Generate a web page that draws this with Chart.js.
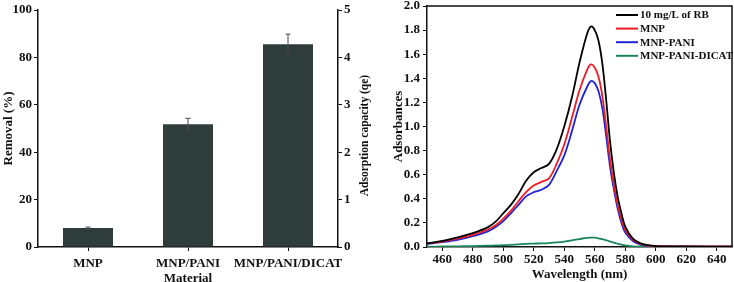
<!DOCTYPE html>
<html>
<head>
<meta charset="utf-8">
<script src="https://cdn.jsdelivr.net/npm/chart.js@4.4.0/dist/chart.umd.min.js"></script>
<style>
  body { margin: 0; background: #fff; }
  #wrap { position: relative; width: 734px; height: 282px; }
  #barBox { position: absolute; left: 0; top: 0; width: 372px; height: 282px; }
  #lineBox { position: absolute; left: 372px; top: 0; width: 362px; height: 282px; }
</style>
</head>
<body>
<div id="wrap">
  <div id="barBox"><canvas id="barChart"></canvas></div>
  <div id="lineBox"><canvas id="lineChart"></canvas></div>
</div>
<script>
// left panel: removal per material
const materials = ['MNP', 'MNP/PANI', 'MNP/PANI/DICAT'];
const removal = [8.0, 51.8, 85.6];
const removalErr = [0.4, 2.5, 4.2];
const removalTicks = [0, 20, 40, 60, 80, 100];
const capacityTicks = [0, 1, 2, 3, 4, 5];

// right panel: UV-vis spectra
const wavelength = [450, 460, 470, 480, 490, 495, 500, 505, 510, 515, 520, 525, 530, 535, 540, 545, 550, 555, 557.5, 560, 562.5, 565, 567.5, 570, 572.5, 575, 577.5, 580, 585, 590, 595, 600, 610, 620, 650];
const rb10 = [0.03, 0.05, 0.08, 0.115, 0.165, 0.21, 0.28, 0.35, 0.44, 0.55, 0.62, 0.655, 0.69, 0.81, 1.0, 1.24, 1.53, 1.77, 1.83, 1.80, 1.71, 1.52, 1.22, 0.88, 0.62, 0.42, 0.28, 0.17, 0.07, 0.03, 0.015, 0.008, 0.005, 0.004, 0.003];
const mnp = [0.03, 0.045, 0.07, 0.1, 0.145, 0.18, 0.235, 0.3, 0.38, 0.455, 0.51, 0.54, 0.57, 0.69, 0.85, 1.07, 1.3, 1.47, 1.515, 1.49, 1.41, 1.25, 1.0, 0.73, 0.52, 0.35, 0.23, 0.14, 0.06, 0.025, 0.012, 0.008, 0.006, 0.005, 0.004];
const mnpPani = [0.025, 0.04, 0.06, 0.09, 0.13, 0.165, 0.215, 0.28, 0.35, 0.42, 0.455, 0.475, 0.515, 0.63, 0.76, 0.96, 1.18, 1.33, 1.377, 1.36, 1.29, 1.15, 0.92, 0.67, 0.48, 0.32, 0.2, 0.12, 0.05, 0.02, 0.01, 0.005, 0.003, 0.003, 0.002];
const mnpPaniDicat = [0.003, 0.004, 0.006, 0.008, 0.011, 0.013, 0.015, 0.018, 0.022, 0.026, 0.028, 0.03, 0.033, 0.038, 0.045, 0.055, 0.066, 0.076, 0.078, 0.077, 0.072, 0.065, 0.056, 0.046, 0.036, 0.027, 0.019, 0.013, 0.006, 0.003, 0.002, 0.001, 0, 0, 0];
const seriesNames = ['10 mg/L of RB', 'MNP', 'MNP-PANI', 'MNP-PANI-DICAT'];
const seriesColors = ['#000000', '#ee1c25', '#1f24d6', '#17875a'];
const wlTicks = [460, 480, 500, 520, 540, 560, 580, 600, 620, 640];
const absTicks = [0, 0.2, 0.4, 0.6, 0.8, 1.0, 1.2, 1.4, 1.6, 1.8, 2.0];

const serif = '"Liberation Serif", "Times New Roman", serif';
Chart.defaults.font.family = serif;
Chart.defaults.font.weight = 'bold';
Chart.defaults.font.size = 13;
Chart.defaults.color = '#111';
Chart.defaults.animation = false;

const tickFont = { family: serif, size: 13, weight: 'bold' };

// error bars on top of the bars
const errorBars = {
    id: 'errorBars',
    afterDatasetsDraw(chart) {
        const ctx = chart.ctx;
        const y = chart.scales.y;
        const meta = chart.getDatasetMeta(0);
        ctx.save();
        ctx.strokeStyle = '#4a4a4a';
        ctx.lineWidth = 1;
        meta.data.forEach((bar, i) => {
            const top = y.getPixelForValue(removal[i] + removalErr[i]);
            const bot = y.getPixelForValue(removal[i] - removalErr[i]);
            ctx.beginPath();
            ctx.moveTo(bar.x, top);
            ctx.lineTo(bar.x, bot);
            ctx.moveTo(bar.x - 2.5, top);
            ctx.lineTo(bar.x + 2.5, top);
            ctx.moveTo(bar.x - 2.5, bot);
            ctx.lineTo(bar.x + 2.5, bot);
            ctx.stroke();
        });
        ctx.restore();
    }
};

// right axis title reads bottom to top like the left one
const rightTitle = {
    id: 'rightTitle',
    afterDraw(chart) {
        const ctx = chart.ctx;
        const area = chart.chartArea;
        ctx.save();
        ctx.translate(365, (area.top + area.bottom) / 2 + 7);
        ctx.rotate(-Math.PI / 2);
        ctx.font = 'bold 11.5px ' + serif;
        ctx.fillStyle = '#111';
        ctx.textAlign = 'center';
        ctx.textBaseline = 'middle';
        ctx.fillText('Adsorption capacity (qe)', 0, 0);
        ctx.restore();
    }
};

new Chart(document.getElementById('barChart'), {
    type: 'bar',
    data: {
        labels: materials,
        datasets: [{
            data: removal,
            backgroundColor: '#2e3c3a',
            barPercentage: 0.5,
            categoryPercentage: 1.0
        }]
    },
    options: {
        responsive: true,
        maintainAspectRatio: false,
        layout: { padding: { top: 10, right: 0, left: 0, bottom: 0 } },
        plugins: { legend: { display: false }, tooltip: { enabled: false } },
        scales: {
            x: {
                grid: { display: true, drawOnChartArea: false, offset: false, tickLength: 4, color: '#111' },
                border: { color: '#111', width: 1.5 },
                ticks: { font: tickFont, color: '#111', padding: 5, maxRotation: 0, autoSkip: false },
                title: { display: true, text: 'Material', font: { family: serif, size: 13, weight: 'bold' }, color: '#111', padding: { top: 2, bottom: -4 } },
                afterFit(scale) { scale.height = 35; }
            },
            y: {
                min: 0, max: 100,
                afterBuildTicks(scale) { scale.ticks = removalTicks.map(v => ({ value: v })); },
                grid: { drawOnChartArea: false, tickLength: 4, color: '#111' },
                border: { color: '#111', width: 1.5 },
                ticks: { font: tickFont, color: '#111', padding: 2 },
                title: { display: true, text: 'Removal (%)', font: { family: serif, size: 13, weight: 'bold' }, color: '#111', padding: { top: 1, bottom: 1 } },
                afterFit(scale) { scale.width = 38; }
            },
            y2: {
                position: 'right',
                min: 0, max: 5,
                afterBuildTicks(scale) { scale.ticks = capacityTicks.map(v => ({ value: v })); },
                grid: { drawOnChartArea: false, tickLength: 4, color: '#111' },
                border: { color: '#111', width: 1.5 },
                ticks: { font: tickFont, color: '#111', padding: 2 },
                afterFit(scale) { scale.width = 34; }
            }
        }
    },
    plugins: [errorBars, rightTitle]
});

// frame and legend for the spectra panel
const frameLegend = {
    id: 'frameLegend',
    afterDraw(chart) {
        const ctx = chart.ctx;
        const a = chart.chartArea;
        ctx.save();
        ctx.strokeStyle = '#111';
        ctx.lineWidth = 1.5;
        ctx.beginPath();
        ctx.moveTo(a.left, a.top);
        ctx.lineTo(a.right, a.top);
        ctx.lineTo(a.right, a.bottom);
        ctx.stroke();
        ctx.font = 'bold 11px ' + serif;
        ctx.textBaseline = 'middle';
        ctx.fillStyle = '#111';
        seriesNames.forEach((name, i) => {
            const yy = 15 + i * 13.6;
            ctx.strokeStyle = seriesColors[i];
            ctx.lineWidth = 2;
            ctx.beginPath();
            ctx.moveTo(244, yy);
            ctx.lineTo(266, yy);
            ctx.stroke();
            ctx.fillText(name, 268, yy + 0.5);
        });
        ctx.restore();
    }
};

const spectra = [rb10, mnp, mnpPani, mnpPaniDicat];

new Chart(document.getElementById('lineChart'), {
    type: 'line',
    data: {
        datasets: spectra.map((vals, i) => ({
            label: seriesNames[i],
            data: wavelength.map((w, j) => ({ x: w, y: vals[j] })),
            borderColor: seriesColors[i],
            borderWidth: 1.8,
            pointRadius: 0,
            fill: false,
            tension: 0.35
        }))
    },
    options: {
        responsive: true,
        maintainAspectRatio: false,
        layout: { padding: { top: 6, right: 2, left: 17, bottom: 0 } },
        plugins: { legend: { display: false }, tooltip: { enabled: false } },
        scales: {
            x: {
                type: 'linear',
                min: 450, max: 650,
                afterBuildTicks(scale) { scale.ticks = wlTicks.map(v => ({ value: v })); },
                grid: { drawOnChartArea: false, tickLength: 4, color: '#111' },
                border: { color: '#111', width: 1.5 },
                ticks: { font: tickFont, color: '#111', padding: 1, maxRotation: 0, autoSkip: false },
                title: { display: true, text: 'Wavelength (nm)', font: { family: serif, size: 13, weight: 'bold' }, color: '#111', padding: { top: 0, bottom: 0 } },
                afterFit(scale) { scale.height = 35; }
            },
            y: {
                min: 0, max: 2,
                afterBuildTicks(scale) { scale.ticks = absTicks.map(v => ({ value: v })); },
                grid: { drawOnChartArea: false, tickLength: 4, color: '#111' },
                border: { color: '#111', width: 1.5 },
                ticks: { font: tickFont, color: '#111', padding: 3, autoSkip: false, callback: v => v.toFixed(1) },
                title: { display: true, text: 'Adsorbances', font: { family: serif, size: 13, weight: 'bold' }, color: '#111', padding: { top: 2, bottom: 2 } },
                afterFit(scale) { scale.width = 38; scale.paddingTop = 0; scale.paddingBottom = 0; }
            }
        }
    },
    plugins: [frameLegend]
});
</script>
</body>
</html>
